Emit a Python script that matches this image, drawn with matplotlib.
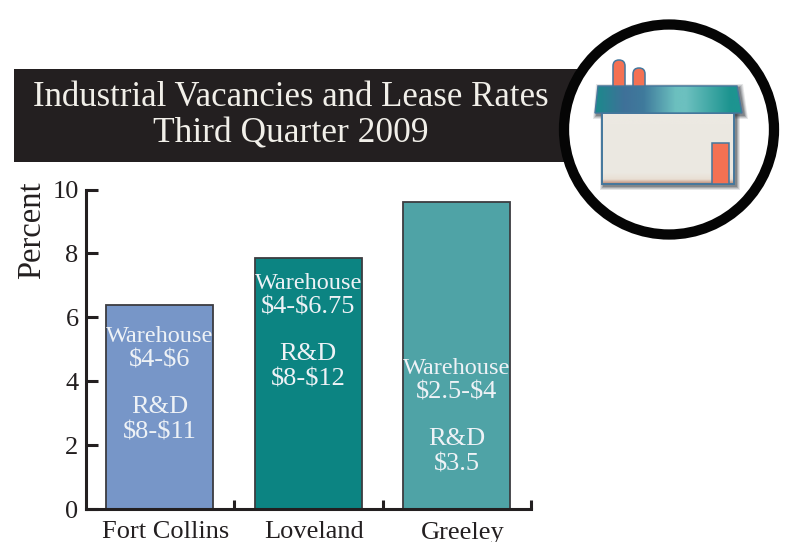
import numpy as np
import matplotlib.pyplot as plt
from matplotlib.patches import Circle, Polygon, Rectangle, FancyBboxPatch
from matplotlib.colors import LinearSegmentedColormap

cities = ["Fort Collins", "Loveland", "Greeley"]
vacancy = [6.4, 7.85, 9.6]
bar_colors = ["#7796c8", "#0c8482", "#4fa3a6"]
warehouse_rates = ["$4-$6", "$4-$6.75", "$2.5-$4"]
rd_rates = ["$8-$11", "$8-$12", "$3.5"]
yticks = [0, 2, 4, 6, 8, 10]

W, H = 785, 542
INK = "#231f20"
LABEL = "#eef2f6"

plt.rcParams["font.family"] = ["Liberation Serif", "DejaVu Serif"]

fig = plt.figure(figsize=(W / 100, H / 100), dpi=100)

# main chart, placed by pixel edges of the reference
ax = fig.add_axes([85.5 / W, 1 - 509 / H, (531 - 85.5) / W, (509 - 189.5) / H])
ax.bar(range(3), vacancy, width=0.72, color=bar_colors, edgecolor="#3c3c40", linewidth=1.3, zorder=2)
ax.set_xlim(-0.5, 2.5)
ax.set_ylim(0, 10)
for side in ("top", "right"):
    ax.spines[side].set_visible(False)
for side in ("left", "bottom"):
    ax.spines[side].set_linewidth(2.2)
    ax.spines[side].set_color(INK)
    ax.spines[side].set_zorder(3)
ax.set_yticks(yticks)
ax.tick_params(axis="y", direction="in", length=8.5, width=2.2, color=INK, labelsize=19, labelcolor=INK, pad=5)
ax.set_xticks([0.5, 1.5, 2.5])
ax.set_xticklabels([])
ax.tick_params(axis="x", direction="in", length=6.5, width=2.2, color=INK)
# city names sit a little right of the bar centres in the reference
ax.set_xticks([i + 0.04 for i in range(3)], minor=True)
ax.set_xticklabels(cities, minor=True, fontsize=19, color=INK)
ax.tick_params(axis="x", which="minor", length=0, pad=9)
ax.set_ylabel("Percent", fontsize=23.5, color=INK, labelpad=4, y=0.873)

# lease rates inside each bar, four lines hung from a first line height
label_tops = [5.4, 7.06, 4.4]
for i in range(3):
    top = label_tops[i]
    ax.text(i, top, "Warehouse", ha="center", va="center", color=LABEL, fontsize=17.5, parse_math=False)
    for txt, drop in [(warehouse_rates[i], 0.75), ("R&D", 2.22), (rd_rates[i], 3.0)]:
        ax.text(i, top - drop, txt, ha="center", va="center", color=LABEL, fontsize=19, parse_math=False)

# overlay in pixel coordinates for the banner and the factory badge
ov = fig.add_axes([0, 0, 1, 1], facecolor="none")
ov.set_xlim(0, W)
ov.set_ylim(H, 0)
ov.axis("off")

ov.add_patch(Rectangle((14, 69), 590, 93, color=INK, lw=0, zorder=1))
ov.text(290.5, 105.5, "Industrial Vacancies and Lease Rates", ha="center", va="baseline",
        color="#f1efe9", fontsize=25, zorder=2)
ov.text(290.5, 143, "Third Quarter 2009", ha="center", va="baseline",
        color="#f1efe9", fontsize=25.5, zorder=2)

ov.add_patch(Circle((669, 129.5), 105, facecolor="white", edgecolor="#050505", lw=7.4, zorder=3))

EDGE = "#44779d"
ORANGE = "#f47153"

# soft shadow under the building
for grow, alpha in [(4, 0.12), (3, 0.16), (2, 0.22), (1, 0.3)]:
    ov.add_patch(Rectangle((602 - grow + 2, 113 - grow + 2), 132 + 2 * grow, 71 + 2 * grow,
                           color="#30343c", alpha=alpha, lw=0, zorder=4))
    ov.add_patch(Polygon([(598 - grow + 2, 86 - grow + 2), (737 + grow + 2, 86 - grow + 2),
                          (742 + grow + 2, 113 + grow + 2), (595 - grow + 2, 113 + grow + 2)],
                         color="#30343c", alpha=alpha, lw=0, zorder=4))

# chimneys
for x0, x1, top in [(613, 625, 60), (633, 645, 68)]:
    r = (x1 - x0) / 2
    ov.add_patch(FancyBboxPatch((x0 + r, top + r), 0.01, 40, boxstyle=f"round,pad={r},rounding_size={r}",
                                facecolor=ORANGE, edgecolor=EDGE, lw=1.1, zorder=5))

# wall with a warm fade at the floor
wall_cmap = LinearSegmentedColormap.from_list("wall", ["#ece9e2", "#e9dfd4", "#bb8a76"])
wall_vals = np.interp(np.linspace(0, 1, 120), [0, 0.84, 0.93, 1], [0, 0.02, 0.45, 1]).reshape(-1, 1)
ov.imshow(wall_vals, cmap=wall_cmap, extent=(602, 734, 184, 113), aspect="auto", zorder=6, vmin=0, vmax=1)
ov.add_patch(Rectangle((602, 113), 132, 71, fill=False, edgecolor=EDGE, lw=1.4, zorder=7))
ov.add_patch(Rectangle((712, 143), 17, 41, facecolor=ORANGE, edgecolor=EDGE, lw=1.1, zorder=7))

# roof gradient, clipped to the trapezoid
roof_cmap = LinearSegmentedColormap.from_list(
    "roof", [(0, "#1b8a8c"), (0.2, "#3f7199"), (0.33, "#3f7a9c"), (0.55, "#6cc0bf"),
             (0.62, "#6cc0bf"), (0.92, "#1d9490"), (1, "#1d9490")])
roof = Polygon([(598, 86), (737, 86), (742, 113), (595, 113)], closed=True, facecolor="none",
               edgecolor=EDGE, lw=1.0, zorder=9)
ov.add_patch(roof)
img = ov.imshow(np.linspace(0, 1, 256).reshape(1, -1), cmap=roof_cmap, extent=(595, 742, 113, 86),
                aspect="auto", zorder=8)
img.set_clip_path(roof)

ov.set_xlim(0, W)
ov.set_ylim(H, 0)

fig.savefig("out.png", dpi=100)
